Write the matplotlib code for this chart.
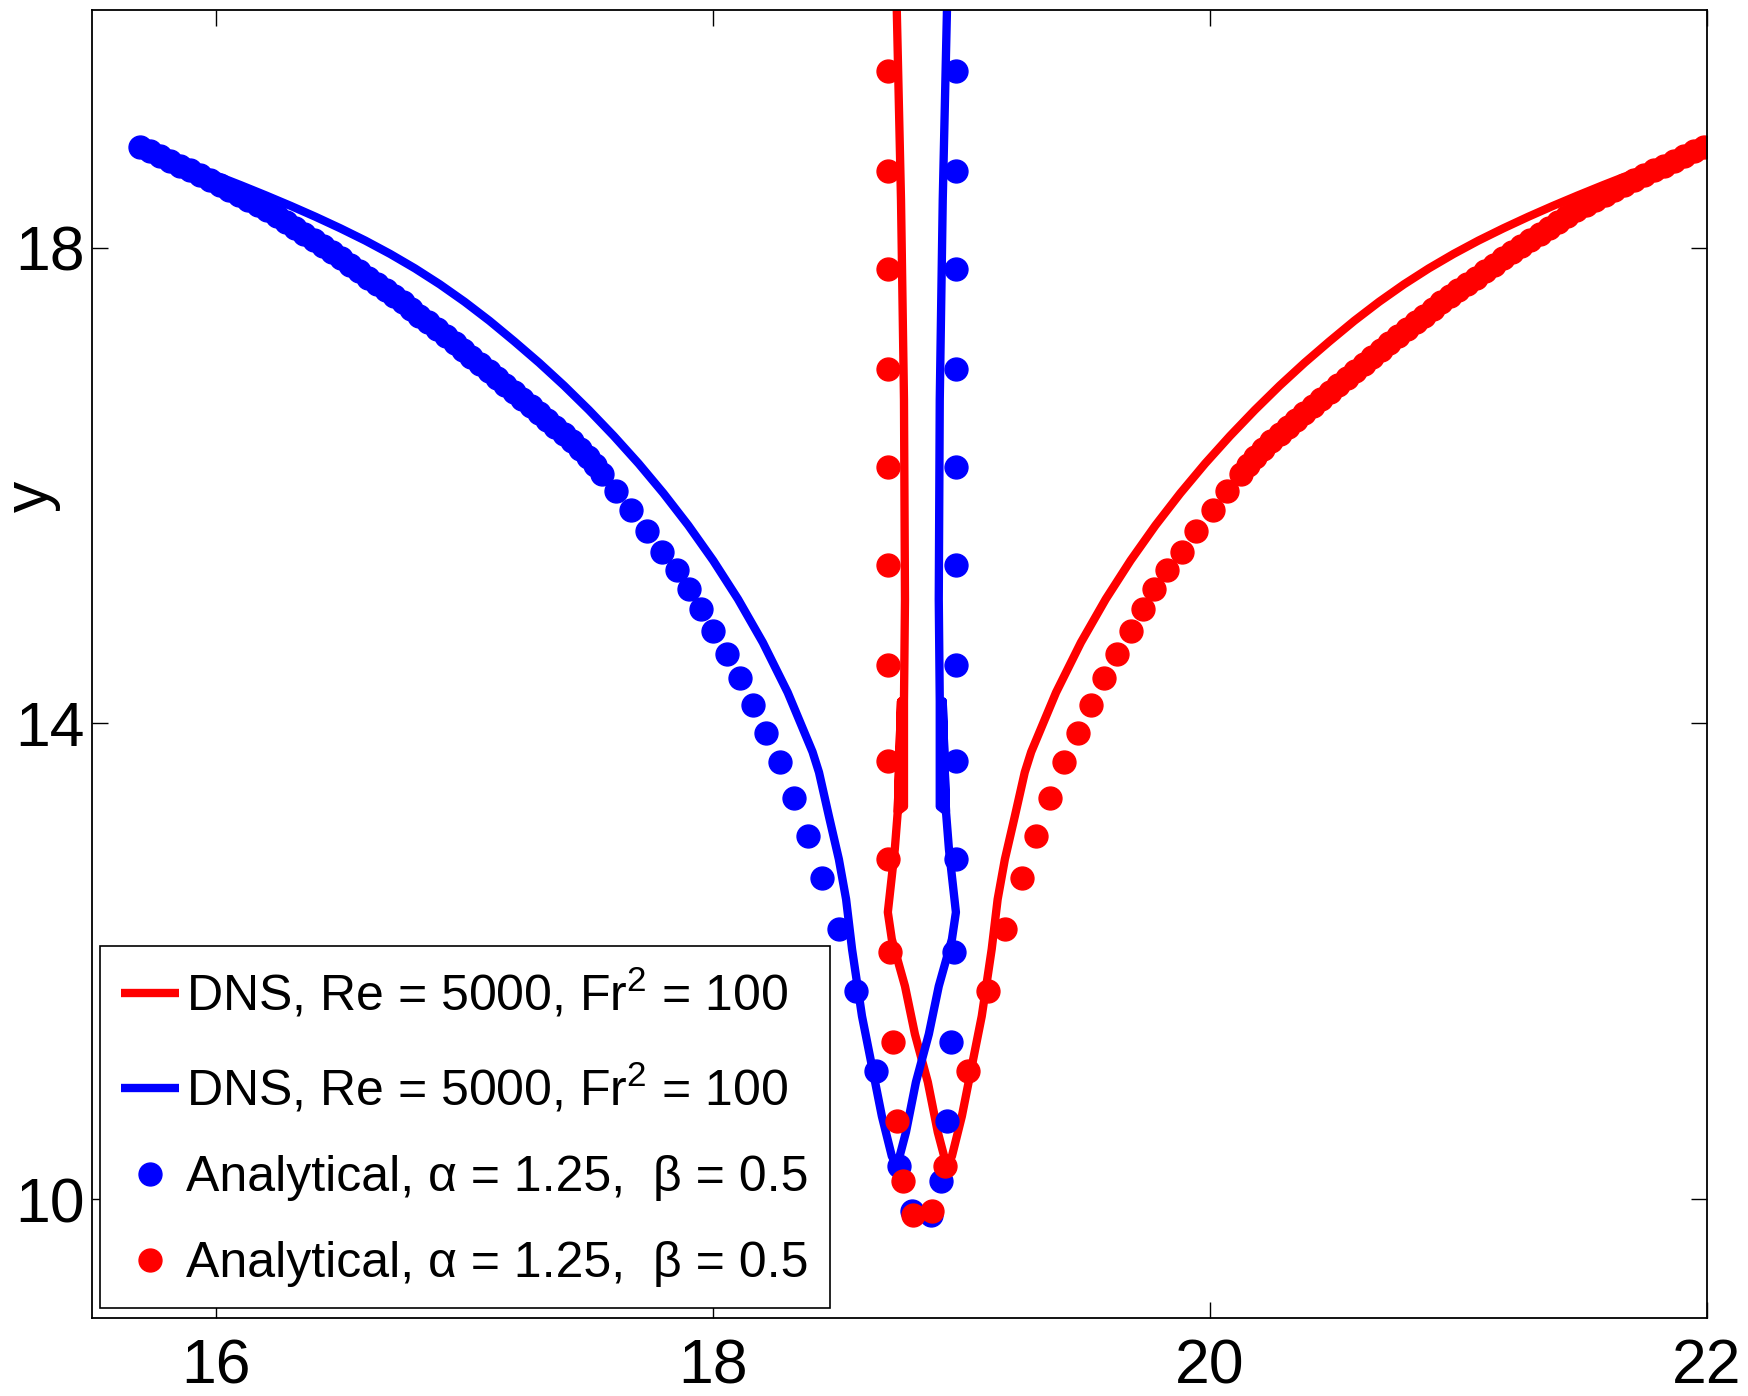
import matplotlib
matplotlib.use("Agg")
import matplotlib.pyplot as plt

plt.rcParams["font.family"] = ["Liberation Sans", "DejaVu Sans"]
plt.rcParams["mathtext.fontset"] = "custom"
plt.rcParams["mathtext.rm"] = "Liberation Sans"
plt.rcParams["mathtext.it"] = "Liberation Sans:italic"

RED = "#ff0000"
BLUE = "#0000ff"

# DNS interface: outer branch, tip, crossing, then the central column
dns_y = [18.849, 18.766, 18.687, 18.607, 18.525, 18.440, 18.352, 18.260,
         18.163, 18.060, 17.948, 17.826, 17.692, 17.545, 17.385, 17.212,
         17.032, 16.840, 16.635, 16.417, 16.185, 15.935, 15.665, 15.370,
         15.045, 14.680, 14.260, 13.760, 13.588, 13.218, 12.857, 12.521,
         12.101, 11.538, 11.118, 10.697, 10.361, 10.277,
         10.563, 10.983, 11.387, 11.790, 12.185, 12.412, 12.714, 12.941,
         13.260, 14.185, 13.260, 13.300, 14.190, 15.042, 16.723, 18.403,
         20.000, 20.300]
blue_dns_x = [15.693, 15.80, 15.90, 16.00, 16.10, 16.20, 16.30, 16.40,
              16.50, 16.60, 16.70, 16.80, 16.90, 17.00, 17.10, 17.20,
              17.30, 17.40, 17.50, 17.60, 17.70, 17.80, 17.90, 18.00,
              18.10, 18.20, 18.30, 18.40, 18.426, 18.466, 18.506, 18.535,
              18.559, 18.599, 18.639, 18.679, 18.719, 18.740,
              18.776, 18.816, 18.868, 18.908, 18.961, 18.977, 18.961, 18.949,
              18.937, 18.924, 18.937, 18.912, 18.912, 18.908, 18.912, 18.924,
              18.941, 18.943]
red_dns_x = [21.987, 21.88, 21.78, 21.68, 21.58, 21.48, 21.38, 21.28,
             21.18, 21.08, 20.98, 20.88, 20.78, 20.68, 20.58, 20.48,
             20.38, 20.28, 20.18, 20.08, 19.98, 19.88, 19.78, 19.68,
             19.58, 19.48, 19.38, 19.28, 19.254, 19.214, 19.174, 19.145,
             19.121, 19.081, 19.041, 19.001, 18.961, 18.940,
             18.904, 18.864, 18.812, 18.772, 18.719, 18.703, 18.719, 18.731,
             18.743, 18.756, 18.743, 18.768, 18.768, 18.772, 18.768, 18.756,
             18.739, 18.737]

# analytical solution: outer branch, bottom pair, central column
analytic_y = [18.849, 18.811, 18.773, 18.731, 18.689, 18.651, 18.613, 18.571,
              18.529, 18.487, 18.445, 18.403, 18.361, 18.315, 18.269, 18.219,
              18.168, 18.118, 18.067, 18.017, 17.966, 17.912, 17.857, 17.803,
              17.748, 17.698, 17.647, 17.597, 17.546, 17.488, 17.429, 17.374,
              17.319, 17.261, 17.202, 17.143, 17.084, 17.025, 16.966, 16.908,
              16.849, 16.790, 16.731, 16.672, 16.613, 16.555, 16.496, 16.437,
              16.378, 16.311, 16.244, 16.173, 16.101,
              15.958, 15.798, 15.622, 15.445,
              15.286, 15.126, 14.966, 14.773, 14.580, 14.378, 14.151, 13.916,
              13.672, 13.370, 13.050, 12.697, 12.269, 11.748, 11.076, 10.277,
              9.899, 9.866,
              10.151, 10.655, 11.319, 12.076, 12.857, 13.681, 14.487, 15.328,
              16.160, 16.983, 17.824, 18.647, 19.487]
blue_an_x = [15.693, 15.733, 15.773, 15.814, 15.854, 15.894, 15.934, 15.974,
             16.014, 16.053, 16.091, 16.129, 16.167, 16.206, 16.244, 16.280,
             16.316, 16.354, 16.392, 16.429, 16.465, 16.501, 16.537, 16.573,
             16.609, 16.646, 16.682, 16.716, 16.750, 16.784, 16.818, 16.853,
             16.887, 16.923, 16.959, 16.993, 17.027, 17.062, 17.096, 17.130,
             17.164, 17.198, 17.232, 17.267, 17.301, 17.333, 17.365, 17.399,
             17.433, 17.466, 17.498, 17.526, 17.554,
             17.610, 17.670, 17.735, 17.795,
             17.855, 17.904, 17.952, 18.000, 18.056, 18.108, 18.161, 18.213,
             18.269, 18.326, 18.382, 18.438, 18.506, 18.575, 18.655, 18.747,
             18.800, 18.876,
             18.916, 18.940, 18.957, 18.969, 18.977, 18.977, 18.977, 18.977,
             18.977, 18.977, 18.977, 18.977, 18.977]
red_an_x = [21.987, 21.947, 21.907, 21.866, 21.826, 21.786, 21.746, 21.706,
            21.666, 21.627, 21.589, 21.551, 21.513, 21.474, 21.436, 21.400,
            21.364, 21.326, 21.288, 21.251, 21.215, 21.179, 21.143, 21.107,
            21.071, 21.034, 20.998, 20.964, 20.930, 20.896, 20.862, 20.827,
            20.793, 20.757, 20.721, 20.687, 20.653, 20.618, 20.584, 20.550,
            20.516, 20.482, 20.448, 20.413, 20.379, 20.347, 20.315, 20.281,
            20.247, 20.214, 20.182, 20.154, 20.126,
            20.070, 20.010, 19.945, 19.885,
            19.825, 19.776, 19.728, 19.680, 19.624, 19.572, 19.519, 19.467,
            19.411, 19.354, 19.298, 19.242, 19.174, 19.105, 19.025, 18.933,
            18.880, 18.804,
            18.764, 18.740, 18.723, 18.711, 18.703, 18.703, 18.703, 18.703,
            18.703, 18.703, 18.703, 18.703, 18.703]

dns_label = "DNS, Re = 5000, Fr$^{2}$ = 100"
an_label = "Analytical, \u03b1 = 1.25,  \u03b2 = 0.5"

x_ticks = [16, 18, 20, 22]
y_ticks = [10, 14, 18]

fig = plt.figure(figsize=(17.49, 13.96), dpi=100)
ax = fig.add_axes([0.0526, 0.0559, 0.9234, 0.9370])

ax.plot(red_dns_x, dns_y, color=RED, lw=6, solid_capstyle="butt",
        label=dns_label)
ax.plot(blue_dns_x, dns_y, color=BLUE, lw=6, solid_capstyle="butt",
        label=dns_label)
ax.plot(blue_an_x, analytic_y, ls="none", marker="o", ms=16.5,
        color=BLUE, mec=BLUE, label=an_label)
ax.plot(red_an_x, analytic_y, ls="none", marker="o", ms=16.5,
        color=RED, mec=RED, label=an_label)

ax.set_xlim(15.5, 22)
ax.set_ylim(9, 20)
ax.set_xticks(x_ticks)
ax.set_yticks(y_ticks)
ax.tick_params(direction="in", length=11.5, width=1.0, top=True, right=True,
               labelsize=45)
ax.tick_params(axis="x", pad=14)
ax.tick_params(axis="y", pad=5)
for sp in ax.spines.values():
    sp.set_linewidth(1.3)

ax.set_ylabel("y", fontsize=45)
ax.yaxis.set_label_coords(-0.019, 0.628)

leg = ax.legend(loc="lower left", bbox_to_anchor=(0.005, 0.0076),
                borderaxespad=0, fontsize=36, handlelength=1.15,
                handletextpad=0.15, borderpad=0.42, labelspacing=0.8,
                fancybox=False, edgecolor="black", framealpha=1)
leg.get_frame().set_linewidth(1.2)

fig.savefig("out.png", dpi=100)
